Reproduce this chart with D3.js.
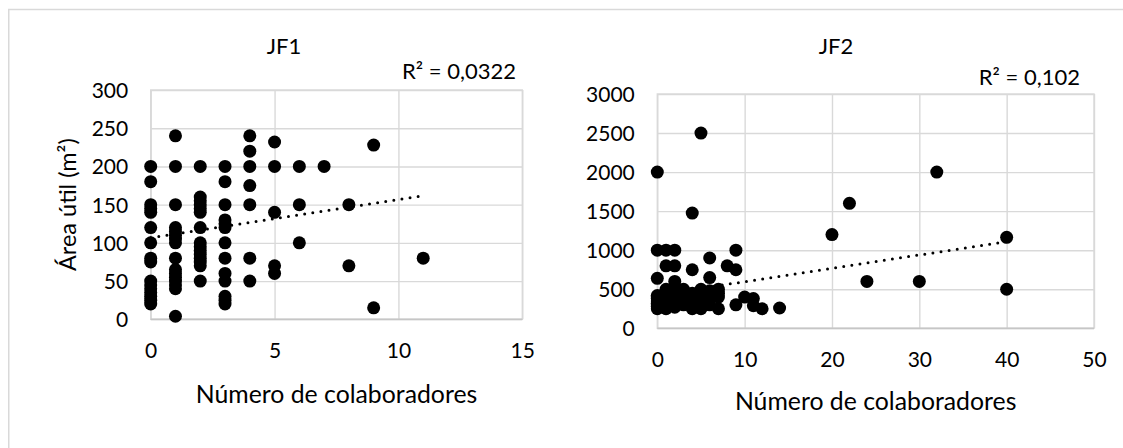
<!DOCTYPE html>
<html><head><meta charset="utf-8">
<script src="https://cdn.jsdelivr.net/npm/d3@7"></script>
<style>
body{margin:0;background:#fff}
svg{display:block}
text{font-family:Lato, "Open Sans", sans-serif; fill:#000}
</style>
</head><body>
<svg id="c" width="1123" height="448"></svg>
<script>
// ---------- DATA ----------
const chartTitles = ["JF1", "JF2"];
const r2Labels = ["R² = 0,0322", "R² = 0,102"];
const xAxisTitle = "Número de colaboradores";
const yAxisTitle = "Área útil (m²)";

const jf1Colab = [
  0,0,0,0,0,0,0,0,0,0,0,0,0,0,0,0,
  1,1,1,1,1,1,1,1,1,1,1,1,1,1,1,1,
  2,2,2,2,2,2,2,2,2,2,2,2,2,2,2,
  3,3,3,3,3,3,3,3,3,3,3,3,3,
  4,4,4,4,4,4,4,
  5,5,5,5,5,
  6,6,6,
  7,
  8,8,
  9,9,
  11
];
const jf1Area = [
  200,180,150,145,140,120,100,80,75,50,45,40,35,30,25,20,
  240,200,150,120,115,110,105,100,80,65,60,55,50,45,40,4,
  200,160,155,150,145,140,120,100,95,90,85,80,75,70,50,
  200,180,150,130,125,120,100,80,60,50,30,25,20,
  240,220,200,175,150,80,50,
  232,200,140,70,60,
  200,150,100,
  200,
  150,70,
  228,15,
  80
];

const jf2Colab = [
  0,0,0,0,0,0,0,0,0,0,0,
  1,1,1,1,1,1,1,1,
  2,2,2,2,2,2,2,2,2,2,
  3,3,3,3,3,
  4,4,4,4,4,4,4,
  5,5,5,5,5,5,
  6,6,6,6,6,
  7,7,7,7,
  8,
  9,9,9,
  10,
  11,11,
  12,
  14,
  20,22,24,30,32,40,40
];
const jf2Area = [
  2000,1000,640,420,400,380,350,320,300,280,250,
  1000,800,500,450,400,350,300,250,
  1000,800,600,500,450,400,380,330,300,270,
  500,450,400,350,300,
  1475,750,450,400,350,300,250,
  2500,500,450,400,300,250,
  900,650,480,400,300,
  500,450,400,250,
  800,
  1000,750,300,
  400,
  380,290,
  250,
  260,
  1200,1600,600,600,2000,1165,500
];

const jf1XTicks = [0, 5, 10, 15];
const jf1YTicks = [0, 50, 100, 150, 200, 250, 300];
const jf2XTicks = [0, 10, 20, 30, 40, 50];
const jf2YTicks = [0, 500, 1000, 1500, 2000, 2500, 3000];

// linear trendlines: [intercept, slope]
const trendIntercept = [106.8, 426];
const trendSlope = [5.0, 17.1];
const trendXMin = [0, 0];
const trendXMax = [11, 40];

// ---------- LAYOUT ----------
const svg = d3.select("#c");

// outer chart frame (only top/left visible in the crop)
svg.append("rect")
  .attr("x", 8.75).attr("y", 9.5)
  .attr("width", 1200).attr("height", 600)
  .attr("fill", "none").attr("stroke", "#d9d9d9").attr("stroke-width", 1.5);

const panels = [
  {
    xs: jf1Colab, ys: jf1Area, xTicks: jf1XTicks, yTicks: jf1YTicks,
    left: 150.7, right: 522.3, top: 90, bottom: 319.3,
    titleX: 284, titleY: 54, r2X: 516, r2Y: 79,
    xLabelDy: 31, xTitleY: 403, yTitle: true, yTitleX: 68
  },
  {
    xs: jf2Colab, ys: jf2Area, xTicks: jf2XTicks, yTicks: jf2YTicks,
    left: 657.3, right: 1094, top: 94, bottom: 328.3,
    titleX: 836, titleY: 54, r2X: 1080, r2Y: 85,
    xLabelDy: 31, xTitleY: 410, yTitle: false
  }
];

panels.forEach((p, i) => {
  const x = d3.scaleLinear()
    .domain([p.xTicks[0], p.xTicks[p.xTicks.length - 1]])
    .range([p.left, p.right]);
  const y = d3.scaleLinear()
    .domain([p.yTicks[0], p.yTicks[p.yTicks.length - 1]])
    .range([p.bottom, p.top]);
  const w = p.right - p.left, h = p.bottom - p.top;

  // horizontal gridlines + y labels
  const gy = svg.append("g")
    .attr("transform", `translate(${p.left},0)`)
    .call(d3.axisLeft(y).tickValues(p.yTicks).tickFormat(d3.format("d"))
      .tickSizeInner(-w).tickSizeOuter(0).tickPadding(22.5));
  gy.select(".domain").remove();
  gy.selectAll(".tick line").attr("stroke", "#d9d9d9").attr("stroke-width", 1.4);
  gy.selectAll(".tick text").attr("font-size", 21).attr("dy", "0.36em")
    .attr("font-family", "Lato, sans-serif").attr("fill", "#000");

  // vertical gridlines + x labels
  const gx = svg.append("g")
    .attr("transform", `translate(0,${p.bottom})`)
    .call(d3.axisBottom(x).tickValues(p.xTicks).tickFormat(d3.format("d"))
      .tickSizeInner(-h).tickSizeOuter(0).tickPadding(0));
  gx.select(".domain").remove();
  gx.selectAll(".tick line").attr("stroke", "#d9d9d9").attr("stroke-width", 1.4);
  gx.selectAll(".tick text").attr("font-size", 21).attr("y", p.xLabelDy).attr("dy", "0.36em")
    .attr("font-family", "Lato, sans-serif").attr("fill", "#000");

  // plot border
  svg.append("rect")
    .attr("x", p.left).attr("y", p.top).attr("width", w).attr("height", h)
    .attr("fill", "none").attr("stroke", "#d9d9d9").attr("stroke-width", 1.4);
  svg.append("line")
    .attr("x1", p.left).attr("x2", p.right).attr("y1", p.bottom).attr("y2", p.bottom)
    .attr("stroke", "#c6c6c6").attr("stroke-width", 1.4);

  // points
  const pts = p.xs.map((d, k) => [d, p.ys[k]]);
  svg.append("g").selectAll("circle").data(pts).join("circle")
    .attr("cx", d => x(d[0])).attr("cy", d => y(d[1])).attr("r", 6.5)
    .attr("fill", "#000");

  // trendline
  const tx = [trendXMin[i], trendXMax[i]];
  svg.append("line")
    .attr("x1", x(tx[0])).attr("y1", y(trendIntercept[i] + trendSlope[i] * tx[0]))
    .attr("x2", x(tx[1])).attr("y2", y(trendIntercept[i] + trendSlope[i] * tx[1]))
    .attr("stroke", "#000").attr("stroke-width", 3)
    .attr("stroke-linecap", "round").attr("stroke-dasharray", "0 8.2");

  // titles
  svg.append("text").attr("x", p.titleX).attr("y", p.titleY)
    .attr("text-anchor", "middle").attr("font-size", 22).text(chartTitles[i]);
  svg.append("text").attr("x", p.r2X).attr("y", p.r2Y)
    .attr("text-anchor", "end").attr("font-size", 22).text(r2Labels[i]);
  svg.append("text").attr("x", (p.left + p.right) / 2).attr("y", p.xTitleY)
    .attr("text-anchor", "middle").attr("font-size", 24.8).text(xAxisTitle);
  if (p.yTitle) {
    svg.append("text")
      .attr("transform", `translate(${p.yTitleX + 8},${(p.top + p.bottom) / 2}) rotate(-90)`)
      .attr("text-anchor", "middle").attr("font-size", 23.5).text(yAxisTitle);
  }
});
</script>
</body></html>
